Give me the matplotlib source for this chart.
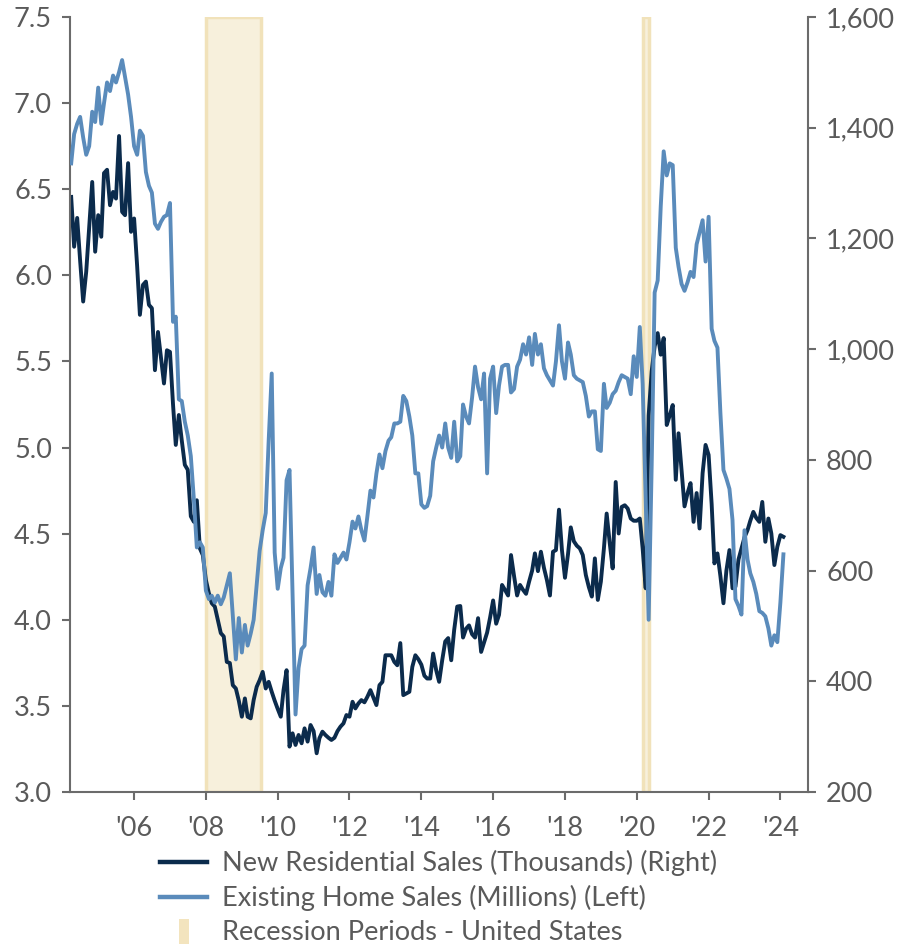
import numpy as np
import pandas as pd
import matplotlib
matplotlib.use("Agg")
import matplotlib.pyplot as plt
from matplotlib.lines import Line2D
from matplotlib.path import Path
import matplotlib.ticker as ticker

# --- Data (monthly, Apr 2004 - Feb 2024) ---

START = "2004-04-01"

# New Residential Sales, thousands (right axis)
new_sales = [
    1275, 1185, 1237, 1160, 1086, 1140, 1220, 1302, 1176,
    1242, 1203, 1318, 1324, 1260, 1284, 1272, 1385, 1248, 1242, 1336, 1212,
    1236, 1150, 1062, 1116, 1122, 1080, 1074, 962, 1031, 985, 938, 998,
    995, 900, 827, 881, 835, 791, 782, 698, 688, 727, 640, 628,
    583, 559, 541, 535, 511, 487, 481, 435, 433, 393, 387, 365,
    336, 369, 336, 333, 366, 390, 402, 417, 387, 399, 381, 365,
    350, 336, 384, 420, 282, 306, 285, 303, 288, 315, 291, 321,
    310, 270, 297, 309, 303, 298, 294, 298, 310, 318, 324, 339,
    336, 363, 351, 360, 366, 362, 372, 384, 370, 357, 393, 399,
    447, 447, 447, 435, 429, 469, 375, 378, 381, 426, 447, 440,
    430, 410, 405, 405, 450, 420, 399, 438, 472, 478, 438, 493,
    535, 536, 479, 495, 501, 485, 479, 514, 453, 470, 488, 515,
    546, 504, 520, 574, 565, 555, 628, 590, 555, 574, 565, 558,
    580, 600, 631, 599, 634, 605, 583, 555, 634, 637, 710, 637,
    587, 630, 678, 653, 645, 640, 628, 592, 570, 553, 622, 547,
    580, 640, 703, 650, 604, 760, 667, 715, 718, 712, 694, 690,
    690, 694, 640, 568, 880, 960, 1005, 1029, 990, 1020, 863, 880,
    899, 764, 848, 780, 716, 740, 758, 688, 740, 676, 776, 827,
    809, 720, 613, 631, 590, 541, 600, 637, 568, 571, 620, 640,
    660, 673, 690, 706, 695, 688, 724, 652, 694, 667, 610, 643,
    664, 661,
]

# Existing Home Sales, millions (left axis)
existing_sales = [
    6.65, 6.82, 6.88, 6.92, 6.80, 6.70, 6.75, 6.95, 6.89,
    7.09, 6.88, 7.00, 7.12, 7.07, 7.16, 7.12, 7.18, 7.25, 7.15, 7.05, 6.92,
    6.75, 6.70, 6.84, 6.81, 6.60, 6.52, 6.48, 6.30, 6.27, 6.31, 6.34, 6.35,
    6.42, 5.73, 5.76, 5.28, 5.27, 5.15, 5.07, 4.95, 4.70, 4.42, 4.45, 4.42,
    4.17, 4.12, 4.14, 4.10, 4.14, 4.09, 4.13, 4.20, 4.27, 4.02, 3.77, 4.01,
    3.81, 3.97, 3.85, 3.92, 4.00, 4.20, 4.40, 4.52, 4.62, 5.04, 5.43, 4.39,
    4.18, 4.30, 4.36, 4.81, 4.87, 4.16, 3.45, 3.72, 3.83, 3.85, 4.20, 4.30,
    4.42, 4.15, 4.26, 4.16, 4.14, 4.22, 4.14, 4.38, 4.33, 4.36, 4.39, 4.35,
    4.45, 4.57, 4.53, 4.60, 4.52, 4.46, 4.60, 4.75, 4.71, 4.85, 4.96, 4.88,
    4.98, 5.04, 5.06, 5.14, 5.14, 5.15, 5.30, 5.27, 5.18, 5.07, 4.85, 4.85,
    4.67, 4.65, 4.66, 4.72, 4.92, 5.00, 5.07, 5.00, 5.14, 5.00, 4.94, 5.15,
    4.92, 4.95, 5.25, 5.18, 5.14, 5.29, 5.47, 5.35, 5.28, 5.43, 4.85, 5.40,
    5.47, 5.20, 5.36, 5.47, 5.48, 5.48, 5.32, 5.34, 5.47, 5.51, 5.60, 5.54,
    5.64, 5.48, 5.66, 5.54, 5.60, 5.46, 5.42, 5.39, 5.36, 5.50, 5.71, 5.50,
    5.40, 5.61, 5.54, 5.42, 5.40, 5.39, 5.38, 5.30, 5.18, 5.21, 5.21, 4.99,
    4.98, 5.37, 5.23, 5.26, 5.31, 5.33, 5.38, 5.42, 5.41, 5.40, 5.31, 5.53,
    5.41, 5.70, 5.37, 4.70, 4.00, 4.90, 5.90, 5.97, 6.40, 6.72, 6.58, 6.65,
    6.64, 6.16, 6.05, 5.95, 5.91, 5.96, 6.02, 5.99, 6.18, 6.25, 6.32, 6.08,
    6.34, 5.69, 5.62, 5.58, 5.20, 4.87, 4.82, 4.76, 4.58, 4.12, 4.08, 4.03,
    4.52, 4.35, 4.27, 4.22, 4.15, 4.05, 4.04, 4.02, 3.95, 3.85, 3.91, 3.87,
    4.10, 4.38,
]

recessions = [("2008-01-01", "2009-07-15"), ("2020-03-01", "2020-05-08")]

x_tick_years = [2006, 2008, 2010, 2012, 2014, 2016, 2018, 2020, 2022, 2024]
left_ticks = [3.0, 3.5, 4.0, 4.5, 5.0, 5.5, 6.0, 6.5, 7.0, 7.5]
right_ticks = [200, 400, 600, 800, 1000, 1200, 1400, 1600]

labels = [
    "New Residential Sales (Thousands) (Right)",
    "Existing Home Sales (Millions) (Left)",
    "Recession Periods - United States",
]

# --- Style ---

DARK = "#0B2B4C"
LIGHT = "#5A8BBB"
SHADE_FILL = "#F7F0DC"
SHADE_EDGE = "#F1E2BA"
AXIS_GREY = "#6B6B6B"
TEXT_GREY = "#5A5A5A"
FONT = "Lato"
FS = 19.5
LW = 2.8

plt.rcParams["font.family"] = FONT

dates = pd.date_range(START, periods=len(new_sales), freq="MS")

W, H = 908, 944
fig = plt.figure(figsize=(W / 100, H / 100), dpi=100)
ax = fig.add_axes([70 / W, 1 - 792 / H, (808 - 70) / W, (792 - 17) / H])

# recession shading
for s, e in recessions:
    ax.axvspan(pd.Timestamp(s), pd.Timestamp(e), facecolor=SHADE_FILL,
               edgecolor=SHADE_EDGE, linewidth=2.5, zorder=0)

# new residential sales on the main axes (right scale)
ax.plot(dates, new_sales, color=DARK, linewidth=LW, zorder=3,
        solid_joinstyle="round")

# existing home sales on twin (left scale), drawn on top
ax_l = ax.twinx()
ax_l.plot(dates, existing_sales, color=LIGHT, linewidth=LW, zorder=3,
          solid_joinstyle="round")

ax.yaxis.tick_right()
ax.set_ylim(200, 1600)
ax.set_yticks(right_ticks)
ax.yaxis.set_major_formatter(ticker.FuncFormatter(lambda v, p: f"{int(v):,}"))

ax_l.yaxis.tick_left()
ax_l.set_ylim(3.0, 7.5)
ax_l.set_yticks(left_ticks)
ax_l.yaxis.set_major_formatter(ticker.FormatStrFormatter("%.1f"))

ax.set_xlim(pd.Timestamp("2004-03-20"), pd.Timestamp("2024-10-08"))
xt = [pd.Timestamp(f"{y}-01-01") for y in x_tick_years]
ax.set_xticks(xt)
ax.set_xticklabels([f"'{y % 100:02d}" for y in x_tick_years])

for a in (ax, ax_l):
    for sp in a.spines.values():
        sp.set_visible(False)
    a.tick_params(colors=AXIS_GREY, labelcolor=TEXT_GREY, labelsize=FS,
                  length=6, width=1.5)
ax.spines["right"].set_visible(True)
ax.spines["bottom"].set_visible(True)
ax_l.spines["left"].set_visible(True)
for sp in (ax.spines["right"], ax.spines["bottom"], ax_l.spines["left"]):
    sp.set_color(AXIS_GREY)
    sp.set_linewidth(1.5)
ax.tick_params(axis="x", pad=11)
ax.tick_params(axis="y", pad=7)
ax_l.tick_params(axis="y", pad=7)
ax_l.tick_params(axis="x", bottom=False, labelbottom=False)

# legend
bar = Path([(-0.4, -1), (0.4, -1), (0.4, 1), (-0.4, 1), (-0.4, -1)])
handles = [
    Line2D([], [], color=DARK, linewidth=3.2),
    Line2D([], [], color=LIGHT, linewidth=3.2),
    Line2D([], [], linestyle="none", marker=bar, markersize=18,
           markerfacecolor="#F3E4BE", markeredgewidth=0),
]
fig.legend(handles, labels, loc="upper left",
           bbox_to_anchor=(160 / W, 1 - 850 / H), frameon=False,
           fontsize=FS, labelcolor=TEXT_GREY, handlelength=1.75,
           handletextpad=0.55, labelspacing=0.33, borderpad=0,
           borderaxespad=0)

fig.savefig("out.png", dpi=100)
